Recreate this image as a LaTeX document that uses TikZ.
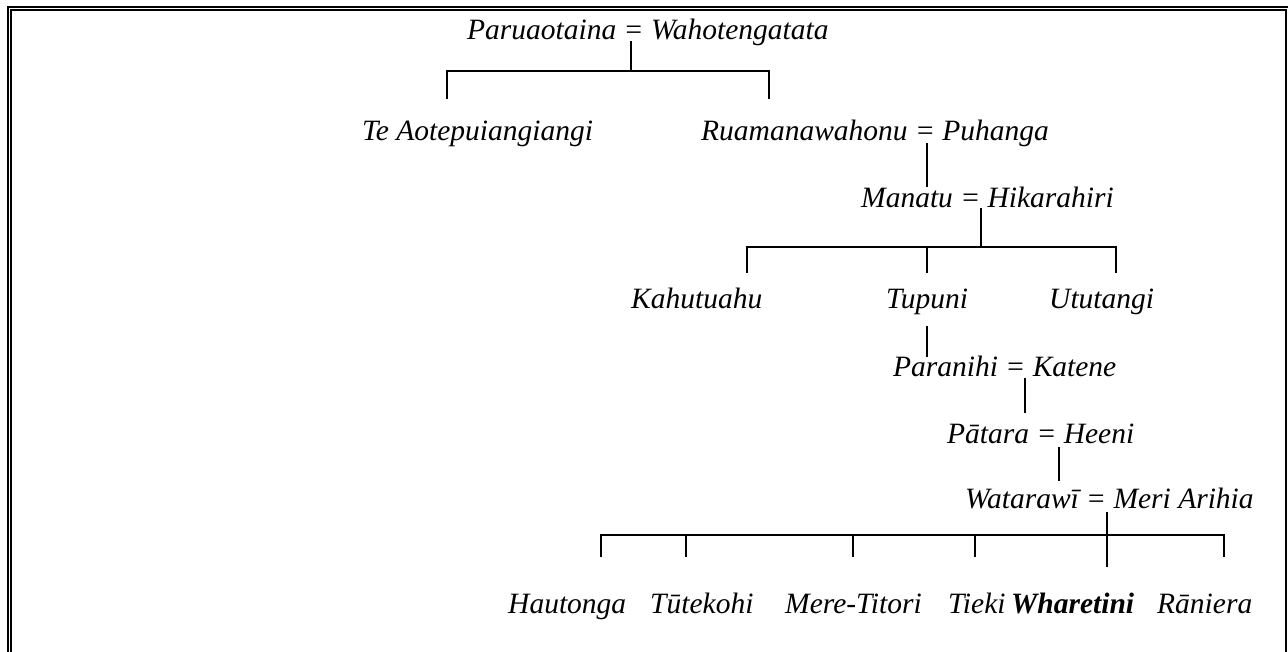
\documentclass[tikz,border=0pt]{standalone}
\usepackage{fontspec}
\setmainfont{Liberation Serif}
\begin{document}
\begin{tikzpicture}[x=1pt,y=-1pt,
  person/.style={anchor=base west,inner sep=0pt,font=\fontsize{29.5}{34}\selectfont\itshape},
  link/.style={line width=1.6pt,line cap=butt},
  frame/.style={line width=2.2pt}]
\useasboundingbox (0,0) rectangle (1288,652);
% frame
\coordinate (fo1) at (8,652); \coordinate (fo2) at (8,7); \coordinate (fo3) at (1288,7);
\coordinate (fi1) at (11,652); \coordinate (fi2) at (11,10); \coordinate (fi3) at (1286,10); \coordinate (fi4) at (1286,652);
\draw[frame] (fo1) -- (fo2) -- (fo3);
\draw[frame] (fi1) -- (fi2) -- (fi3) -- (fi4);
% people
\node[person] (par) at (467,40) {Paruaotaina = Wahotengatata};
\node[person] (te) at (362,141) {Te Aotepuiangiangi};
\node[person] (rua) at (701,141) {Ruamanawahonu = Puhanga};
\node[person] (man) at (861,208) {Manatu = Hikarahiri};
\node[person] (kah) at (631,309) {Kahutuahu};
\node[person] (tup) at (886,309) {Tupuni};
\node[person] (utu) at (1049,309) {Ututangi};
\node[person] (pan) at (893,377) {Paranihi = Katene};
\node[person] (pat) at (947,443) {P\=atara = Heeni};
\node[person] (wat) at (965,508) {Watarawī = Meri Arihia};
\node[person] (hau) at (508,613) {Hautonga};
\node[person] (tut) at (650,613) {T\=utekohi};
\node[person] (mer) at (785,613) {Mere-Titori};
\node[person] (tie) at (948,613) {Tieki};
\node[person,font=\fontsize{29.5}{34}\selectfont\bfseries\itshape] (wha) at (1011,613) {Wharetini};
\node[person] (ran) at (1157,613) {R\=aniera};
% family 1
\coordinate (p1) at (631,41); \coordinate (p2) at (631,71);
\coordinate (b1L) at (447,71); \coordinate (b1R) at (769,71);
\coordinate (teT) at (447,99); \coordinate (ruT) at (769,99);
\draw[link] (p1) -- (p2);
\draw[link] (teT) -- (b1L) -- (b1R) -- (ruT);
% Ruamanawahonu -> Manatu
\coordinate (r1) at (927,143); \coordinate (r2) at (927,187);
\draw[link] (r1) -- (r2);
% family 3
\coordinate (m1) at (981,208); \coordinate (m2) at (981,247);
\coordinate (b3L) at (747,247); \coordinate (b3R) at (1116,247); \coordinate (b3M) at (927,247);
\coordinate (kaT) at (747,273); \coordinate (tuT) at (927,273); \coordinate (utT) at (1116,273);
\draw[link] (m1) -- (m2);
\draw[link] (kaT) -- (b3L) -- (b3R) -- (utT);
\draw[link] (b3M) -- (tuT);
% Tupuni -> Paranihi
\coordinate (t1) at (927,326); \coordinate (t2) at (927,357);
\draw[link] (t1) -- (t2);
% Paranihi -> Patara
\coordinate (n1) at (1025,378); \coordinate (n2) at (1025,413);
\draw[link] (n1) -- (n2);
% Patara -> Watarawi
\coordinate (a1) at (1059,447); \coordinate (a2) at (1059,481);
\draw[link] (a1) -- (a2);
% family Watarawi
\coordinate (w1) at (1107,512); \coordinate (whT) at (1107,567);
\coordinate (b7L) at (601,535); \coordinate (b7R) at (1224,535);
\coordinate (b7a) at (686,535); \coordinate (b7b) at (853,535); \coordinate (b7c) at (975,535);
\coordinate (hauT) at (601,557); \coordinate (tutT) at (686,557); \coordinate (merT) at (853,557);
\coordinate (tieT) at (975,557); \coordinate (ranT) at (1224,557);
\draw[link] (w1) -- (whT);
\draw[link] (hauT) -- (b7L) -- (b7R) -- (ranT);
\draw[link] (b7a) -- (tutT);
\draw[link] (b7b) -- (merT);
\draw[link] (b7c) -- (tieT);
\end{tikzpicture}
\end{document}
